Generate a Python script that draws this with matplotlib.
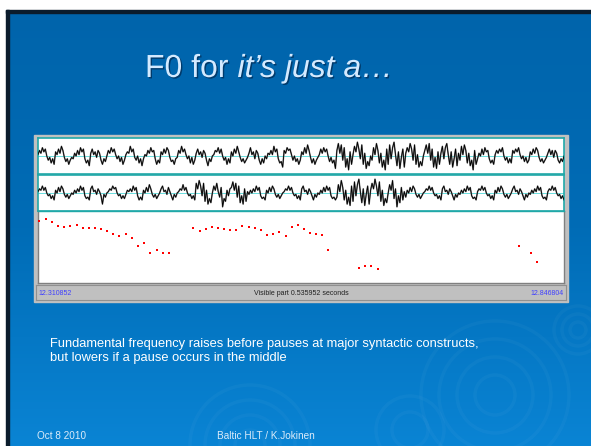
#!/usr/bin/env python3
import matplotlib
matplotlib.use("Agg")
import matplotlib.pyplot as plt
import numpy as np
from matplotlib.patches import Rectangle, Circle
import matplotlib.patheffects as pe

W, H = 591, 446

T_START = 12.310852
T_END = 12.846804

# F0 track (time in s, F0 in Hz)
f0_time = [
    12.3122, 12.3187, 12.3251, 12.3315, 12.3377, 12.3438, 12.3503, 12.3564,
    12.3628, 12.3692, 12.3751, 12.3812, 12.3876, 12.3937, 12.4002, 12.4066,
    12.4128, 12.4192, 12.4253, 12.4318, 12.4379, 12.4443,
    12.4691, 12.4756, 12.4817, 12.4879, 12.4940, 12.5004, 12.5065, 12.5129,
    12.5190, 12.5255, 12.5316, 12.5381, 12.5442, 12.5506, 12.5567, 12.5632,
    12.5697, 12.5758, 12.5816, 12.5880, 12.5941, 12.6006, 12.6067,
    12.6383, 12.6444, 12.6505, 12.6573,
    12.8010, 12.8132, 12.8196,
]
f0_hz = [
    266, 274, 263, 249, 248, 251, 254, 243,
    244, 243, 240, 234, 223, 218, 222, 209,
    184, 192, 160, 171, 160, 160,
    244, 234, 239, 246, 242, 239, 238, 238,
    251, 248, 242, 238, 220, 223, 231, 217,
    248, 254, 239, 227, 223, 219, 169,
    111, 116, 116, 106,
    184, 160, 129,
]

# rough waveform samples (relative amplitude), upper and lower channel
wave_top = [
    1, 4, 2, 6, 3, 5, 0, -3, -1, -5, -2, -6,
    3, 1, 5, 2, 7, 4, -1, -4, -2, -6, -3, -1,
    -2, 2, 0, 4, 1, 6, 3, 5, -2, -5, -3, -7,
    2, 5, 1, 3, -1, 4, 2, -3, -6, -2, -4, 0,
    4, 2, 6, 3, 5, 1, -2, 0, -4, -1, -6, -3,
    1, 3, 2, 7, 3, 5, -1, -3, 0, -5, -2, -7,
    -2, 1, 0, 4, 2, 6, 3, 4, -2, -6, -3, -5,
    3, 1, 5, 2, 6, 4, -1, -4, -3, -6, -2, -1,
    4, 2, 7, 3, 5, 1, -2, 0, -5, -1, -6, -3,
    2, 5, 1, 3, -1, 4, 2, -3, -7, -2, -4, 0,
    1, 4, 3, 6, 2, 5, 0, -3, -1, -6, -2, -5,
    3, 0, 5, 2, 7, 3, -1, -4, -2, -5, -3, -1,
    2, 6, 1, 3, -2, 4, 2, -3, -6, -2, -5, 0,
    -2, 2, 1, 4, 1, 7, 3, 5, -2, -5, -4, -8,
    4, 2, 6, 4, 5, 1, -3, 0, -4, -2, -6, -3,
    3, 1, 6, 2, 8, 4, -1, -5, -2, -6, -3, -1,
    1, 5, 2, 6, 3, 5, 0, -4, -1, -5, -3, -9,
    4, 9, 2, 8, -3, 6, -8, -2, -10, 3, -6, 1,
    7, 3, 10, 5, -2, 8, -6, 2, -9, -4, -7, 0,
    -3, 6, 1, 9, 4, -5, 2, -8, -3, -10, 5, -6,
    8, -2, 6, 10, 1, -7, 3, -9, -1, 5, -8, 2,
    6, 3, 9, 5, -3, 8, -6, 1, -8, -4, -7, 0,
    4, 8, 2, 9, -3, 5, -8, -1, -9, 3, -6, 2,
    7, -2, 6, 9, 1, -6, 3, -8, -2, 5, -7, 2,
    -3, 7, 1, 8, 4, -5, 2, -7, -3, -10, 4, -6,
    -2, 2, 0, 5, 1, 6, 3, 4, -2, -5, -3, -6,
    1, 4, 2, 5, 3, 6, 0, -3, -1, -5, -2, -5,
    4, 2, 5, 3, 6, 1, -2, 0, -4, -1, -5, -3,
    3, 1, 5, 2, 6, 4, -1, -4, -2, -5, -3, -1,
    2, 5, 1, 4, -1, 4, 2, -3, -5, -2, -4, 0,
]
wave_bottom = [
    1, 3, 2, 5, 2, 4, 0, -2, -1, -4, -2, -5,
    2, 0, 4, 1, 5, 3, -1, -3, -1, -4, -2, 0,
    -1, 2, 0, 3, 1, 5, 2, 4, -2, -4, -3, -5,
    3, 5, 1, 2, -1, 3, 1, -2, -8, -1, -3, 0,
    1, 3, 2, 5, 3, 4, 0, -2, -1, -4, -2, -4,
    -1, 2, 1, 3, 1, 5, 2, 4, -2, -5, -3, -5,
    2, 0, 4, 1, 6, 3, -1, -3, -1, -4, -2, 0,
    3, 5, 1, 2, -1, 4, 1, -2, -5, -1, -3, 0,
    1, 3, 2, 6, 2, 4, 0, -2, -1, -4, -2, -5,
    7, 3, 9, 5, -2, 7, -6, 2, -8, -4, -7, 0,
    5, 2, 7, 1, -3, 4, -10, -4, -6, 2, -2, 3,
    4, 8, 2, 7, -3, 5, -7, -2, -8, 3, -6, 1,
    -1, 2, 0, 3, 1, 5, 2, 4, -2, -4, -3, -5,
    2, 0, 4, 1, 5, 3, -1, -3, -1, -4, -2, 0,
    1, 3, 2, 5, 2, 4, 0, -2, -1, -4, -2, -5,
    3, 5, 1, 2, -1, 3, 1, -2, -5, -1, -3, 0,
    -1, 2, 0, 4, 1, 5, 2, 4, -2, -4, -3, -5,
    -3, 6, 1, 9, 4, -5, 2, -8, -3, -9, 5, -6,
    8, -2, 6, 10, 1, -7, 3, -9, -1, 5, -8, 2,
    7, 3, 10, 5, -2, 8, -6, 2, -9, -4, -7, 0,
    6, 2, 9, -4, 3, -10, -2, -7, 4, -5, 1, -3,
    2, 0, 4, 1, 5, 3, -1, -3, -1, -4, -2, 0,
    1, 3, 2, 5, 2, 4, 0, -2, -1, -4, -2, -5,
    3, 5, 1, 2, -1, 3, 1, -2, -5, -1, -3, 0,
    -1, 2, 0, 3, 1, 5, 2, 4, -2, -4, -3, -5,
    1, 3, 2, 5, 2, 4, 0, -2, -1, -4, -2, -5,
    2, 0, 4, 1, 5, 3, -1, -3, -1, -4, -2, 0,
    3, 5, 1, 2, -1, 3, 1, -2, -5, -1, -3, 0,
    -1, 2, 0, 3, 1, 5, 2, 4, -2, -4, -3, -5,
    1, 3, 2, 5, 2, 4, 0, -2, -1, -4, -2, -5,
]

TITLE_A = "F0 for "
TITLE_B = "it\u2019s just a\u2026"
BODY = ("Fundamental frequency raises before pauses at major syntactic constructs,\n"
        "but lowers if a pause occurs in the middle")
FOOT_DATE = "Oct 8 2010"
FOOT_MID = "Baltic HLT / K.Jokinen"

FONT = "Liberation Sans"


def box(x0, y0, x1, y1):
    # pixel box (top-left origin) -> figure fraction rect
    return [x0 / W, 1 - y1 / H, (x1 - x0) / W, (y1 - y0) / H]


fig = plt.figure(figsize=(W / 100, H / 100), dpi=100)

# slide background
bg = fig.add_axes([0, 0, 1, 1])
bg.set_xlim(0, W)
bg.set_ylim(H, 0)
bg.axis("off")
grad = np.linspace(0, 1, 256).reshape(-1, 1)
cmap = matplotlib.colors.LinearSegmentedColormap.from_list(
    "slide", ["#0064ab", "#006cb6", "#0a84d4"])
bg.imshow(grad, cmap=cmap, extent=(6, W, H, 10), aspect="auto", zorder=0)
bg.add_patch(Rectangle((0, 0), W, 10, color="white", zorder=1))
bg.add_patch(Rectangle((0, 0), 6, H, color="white", zorder=1))
bg.add_patch(Rectangle((6, 10), W - 6, 3, color="#0b1c2c", zorder=2))
bg.add_patch(Rectangle((6, 10), 3, H - 10, color="#0b1c2c", zorder=2))

# faint ripples
for cx, cy, radii in [(578, 330, [8, 16, 24]), (495, 395, [20, 38, 56, 74]),
                      (250, 445, [15, 30, 45, 60]), (410, 430, [18, 34])]:
    for r in radii:
        bg.add_patch(Circle((cx, cy), r, fill=False, ec="white",
                            alpha=0.03, lw=2.5, zorder=1))

# title: upright part, then italic part placed right after it
shadow = [pe.withSimplePatchShadow(offset=(1.0, -1.0), shadow_rgbFace="#00284f",
                                   alpha=0.7)]
t_a = bg.text(145, 77, TITLE_A, fontsize=23, family=FONT, color="#d4eaff",
              ha="left", va="baseline", path_effects=shadow, zorder=5)
fig.canvas.draw()
ext = t_a.get_window_extent()
x_b = ext.x1  # display px == image px here
bg.text(x_b, 77, TITLE_B, fontsize=23, family=FONT, color="#d4eaff",
        style="italic", ha="left", va="baseline", path_effects=shadow, zorder=5)

# body and footer
bg.text(50, 361, BODY, fontsize=9.3, family=FONT, color="white",
        ha="left", va="baseline", linespacing=1.2, zorder=5)
bg.text(37, 439, FOOT_DATE, fontsize=7.2, family=FONT, color="#dcecfa",
        ha="left", va="baseline", zorder=5)
bg.text(217, 439, FOOT_MID, fontsize=7.2, family=FONT, color="#dcecfa",
        ha="left", va="baseline", zorder=5)

# window frame around the panels
bg.add_patch(Rectangle((34, 135), 534, 167, color="#c0c0c0", zorder=2))

TEAL = "#20a8a8"

for vals, (y0, y1) in [(wave_top, (138, 174)), (wave_bottom, (175, 211))]:
    ax = fig.add_axes(box(38, y0, 564, y1))
    t = np.linspace(T_START, T_END, len(vals))
    v = np.array(vals, dtype=float) / 10.0
    ax.axhline(0, color="#50d8d8", lw=0.6, zorder=1)
    ax.plot(t, v, color="#7a7a7a", lw=1.1, zorder=2)
    ax.plot(t, v, color="black", lw=0.6, zorder=3)
    ax.set_xlim(T_START, T_END)
    ax.set_ylim(-1.3, 1.3)
    ax.set_xticks([])
    ax.set_yticks([])
    for s in ax.spines.values():
        s.set_color(TEAL)
        s.set_linewidth(1.2)

# F0 panel
axf = fig.add_axes(box(38, 211, 564, 283))
axf.scatter(f0_time, f0_hz, s=3.2, color="red", marker="s", lw=0, zorder=3)
axf.set_xlim(T_START, T_END)
axf.set_ylim(60, 300)
axf.set_xticks([])
axf.set_yticks([])
for side, s in axf.spines.items():
    s.set_color(TEAL if side == "top" else "#808080")
    s.set_linewidth(1.0)

# status bar
axs = fig.add_axes(box(36, 285, 566, 300))
axs.set_facecolor("#c0c0c0")
axs.set_xlim(0, 1)
axs.set_ylim(0, 1)
axs.set_xticks([])
axs.set_yticks([])
for s in axs.spines.values():
    s.set_color("#909090")
    s.set_linewidth(0.8)
axs.text(0.005, 0.45, f"{T_START:.6f}", fontsize=5, family=FONT, color="#4040ff",
         ha="left", va="center")
axs.text(0.5, 0.45, f"Visible part {T_END - T_START:.6f} seconds", fontsize=5,
         family=FONT, color="#202020", ha="center", va="center")
axs.text(0.995, 0.45, f"{T_END:.6f}", fontsize=5, family=FONT, color="#4040ff",
         ha="right", va="center")

fig.savefig("out.png", dpi=100)
